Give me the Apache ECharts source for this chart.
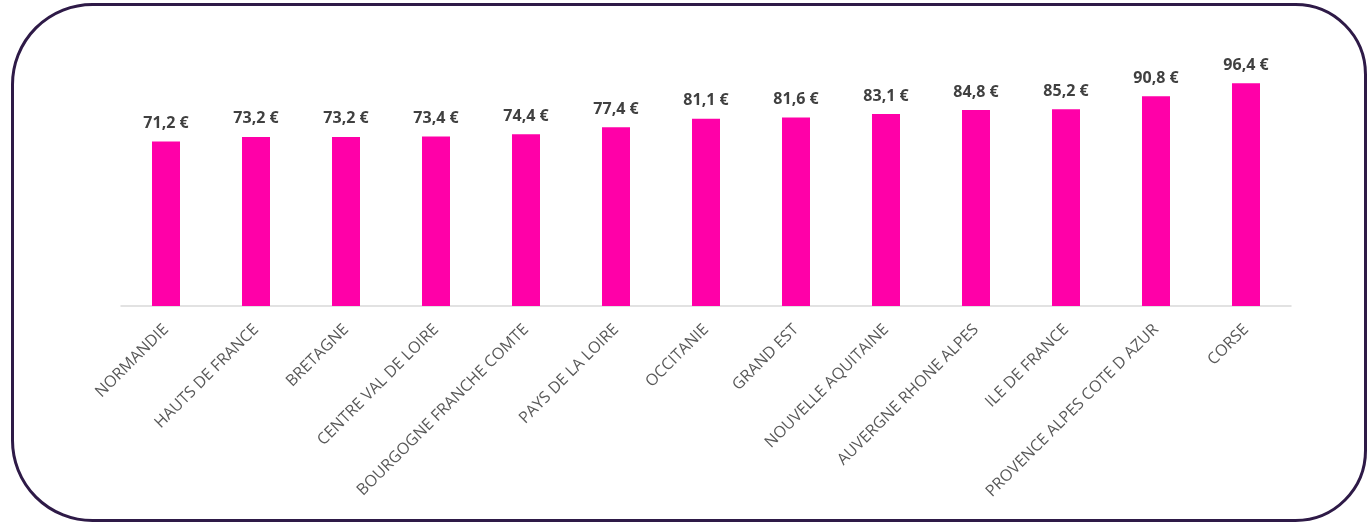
<!DOCTYPE html>
<html>
<head>
<meta charset="utf-8">
<script src="https://cdn.jsdelivr.net/npm/echarts@6/dist/echarts.min.js"></script>
<style>
  html, body { margin: 0; padding: 0; background: #ffffff; }
  #chart { width: 1369px; height: 523px; }
</style>
</head>
<body>
<div id="chart"></div>
<script>
// Regions of France, sorted by average price
const regions = [
  'NORMANDIE', 'HAUTS DE FRANCE', 'BRETAGNE', 'CENTRE VAL DE LOIRE',
  'BOURGOGNE FRANCHE COMTE', 'PAYS DE LA LOIRE', 'OCCITANIE', 'GRAND EST',
  'NOUVELLE AQUITAINE', 'AUVERGNE RHONE ALPES', 'ILE DE FRANCE',
  'PROVENCE ALPES COTE D AZUR', 'CORSE'
];
// Average price per region, in euros
const prices = [71.2, 73.2, 73.2, 73.4, 74.4, 77.4, 81.1, 81.6, 83.1, 84.8, 85.2, 90.8, 96.4];

const chart = echarts.init(document.getElementById('chart'), null, { renderer: 'canvas' });

chart.setOption({
  animation: false,
  backgroundColor: '#ffffff',
  graphic: [{
    type: 'rect',
    silent: true,
    z: -1,
    shape: { x: 12.5, y: 4.5, width: 1353, height: 516, r: [80, 70, 70, 80] },
    style: { fill: 'none', stroke: '#2e1a47', lineWidth: 3 }
  }],
  grid: { left: 121, right: 78, top: 75, bottom: 217, containLabel: false },
  xAxis: {
    type: 'category',
    data: regions,
    axisLine: { lineStyle: { color: '#d9d9d9', width: 1.5 } },
    axisTick: { show: false },
    axisLabel: {
      interval: 0,
      rotate: 45,
      margin: 21,
      color: '#595959',
      fontFamily: 'Open Sans',
      fontSize: 16
    }
  },
  yAxis: {
    type: 'value',
    min: 0,
    max: 100,
    show: false,
    splitLine: { show: false }
  },
  series: [{
    type: 'bar',
    data: prices,
    barWidth: 28,
    itemStyle: { color: '#ff00a8' },
    label: {
      show: true,
      position: 'top',
      distance: 10,
      color: '#404040',
      fontFamily: 'Open Sans',
      fontWeight: 'bold',
      fontSize: 16,
      formatter: p => p.value.toFixed(1).replace('.', ',') + ' €'
    }
  }]
});
</script>
</body>
</html>
